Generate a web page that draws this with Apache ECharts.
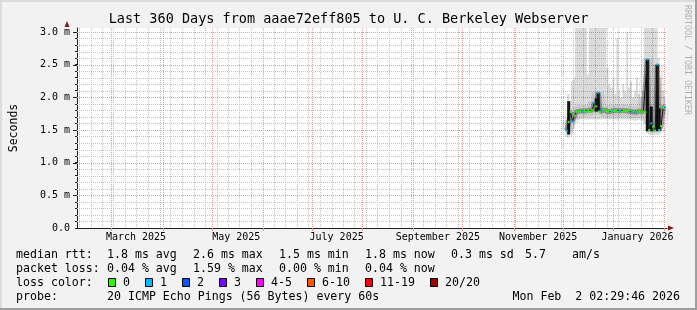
<!DOCTYPE html>
<html><head><meta charset="utf-8">
<script src="https://cdn.jsdelivr.net/npm/echarts@6.0.0/dist/echarts.min.js"></script>
<style>html,body{margin:0;padding:0;background:#f2f2f2}#c{width:697px;height:310px}</style>
</head><body><div id="c"></div>
<script>
// ---------- data ----------
const titleText = 'Last 360 Days from aaae72eff805 to U. C. Berkeley Webserver';
const axisStartUTC = Date.UTC(2025, 1, 7, 13, 0, 0);
const bucketDays = 0.6;
const bucketCount = 601;
const monthLabels = ['March 2025', 'May 2025', 'July 2025', 'September 2025', 'November 2025', 'January 2026'];
const monthLabelDates = [[2025, 2, 16], [2025, 4, 16], [2025, 6, 16], [2025, 8, 16], [2025, 10, 16], [2026, 0, 16]];
const yTickLabels = ['0.0', '0.5 m', '1.0 m', '1.5 m', '2.0 m', '2.5 m', '3.0 m'];
const yMax = 3.06;
const yMinorStep = 0.1;
const yMajorStep = 0.5;

const sampleStartUTC = Date.UTC(2025, 11, 3, 15, 0, 0);
const sampleStepDays = 1.2;
const medianRtt = [1.49,1.62,1.77,1.63,1.72,1.78,1.78,1.79,1.78,1.79,
  1.78,1.80,1.78,1.80,1.92,1.86,2.07,1.78,1.80,1.81,
  1.79,1.78,1.80,1.79,1.79,1.80,1.78,1.79,1.78,1.80,
  1.79,1.79,1.80,1.78,1.78,1.77,1.78,1.79,1.78,1.78,
  1.77,2.58,1.50,1.60,1.55,1.49,2.50,1.50,1.56,1.84,
  1.85];
const lossCount = [1,0,0,1,0,0,0,0,1,0,
  0,0,0,0,1,0,1,0,1,0,
  0,0,0,1,0,0,0,1,0,0,
  0,0,0,1,0,1,0,0,0,0,
  0,1,0,1,0,0,1,1,0,0,
  1];
const smokeLow = [1.40,1.38,1.45,1.42,1.52,1.66,1.66,1.66,1.66,1.66,
  1.66,1.66,1.66,1.66,1.66,1.66,1.66,1.66,1.66,1.67,
  1.66,1.66,1.66,1.66,1.66,1.66,1.65,1.66,1.66,1.66,
  1.66,1.66,1.66,1.65,1.65,1.64,1.65,1.66,1.65,1.64,
  1.60,1.45,1.43,1.42,1.43,1.42,1.43,1.42,1.45,1.70,
  1.72];
const smokeHigh = [1.65,2.05,1.95,2.25,2.30,3.06,3.06,3.06,3.06,3.06,
  3.06,2.35,3.06,3.06,3.06,3.06,3.06,3.06,3.06,3.06,
  3.06,2.45,2.20,2.15,2.30,2.05,2.90,2.10,2.00,2.20,
  2.10,3.00,2.15,2.25,2.00,2.10,2.30,2.05,2.00,2.10,
  3.06,3.06,3.06,3.06,3.06,3.06,3.06,2.60,2.30,2.10,
  2.00];
const spikeSample = [1, 15, 16, 41, 43, 46, 47];
const spikeLow = [1.43, 1.78, 1.80, 1.48, 1.48, 1.48, 1.49];
const spikeHigh = [1.94, 1.98, 2.07, 2.58, 1.86, 2.50, 1.83];

const lossLabels = ['0', '1', '2', '3', '4-5', '6-10', '11-19', '20/20'];
const lossColors = ['#26ff00', '#00b8ff', '#0059ff', '#7e00ff', '#ff00ff', '#ff5500', '#ff0000', '#a10000'];
const rttStats = ['1.8 ms avg', '2.6 ms max', '1.5 ms min', '1.8 ms now', '0.3 ms sd'];
const rttExtra = ['5.7', 'am/s'];
const lossStats = ['0.04 % avg', '1.59 % max', '0.00 % min', '0.04 % now'];
const probeText = '20 ICMP Echo Pings (56 Bytes) every 60s';
const stampText = 'Mon Feb  2 02:29:46 2026';
const watermark = 'RRDTOOL / TOBI OETIKER';

// ---------- helpers ----------
const DAY = 86400000;
const BUCKET = bucketDays * DAY;
const bucketOf = t => Math.floor((t - axisStartUTC) / BUCKET);
const categories = [];
for (let i = 0; i < bucketCount; i++) categories.push(new Date(axisStartUTC + i * BUCKET).toISOString());
const axisEnd = axisStartUTC + (bucketCount - 1) * BUCKET;

const monthSet = new Set();
for (let y = 2025, m = 0; y < 2027; m++) {
  if (m > 11) { m = 0; y++; }
  const t = Date.UTC(y, m, 1);
  if (t > axisEnd) break;
  if (t > axisStartUTC) monthSet.add(bucketOf(t));
}
const weekSet = new Set();
for (let t = Date.UTC(2025, 1, 7); t < axisEnd; t += DAY) {
  if (new Date(t).getUTCDay() === 0 && t > axisStartUTC) weekSet.add(bucketOf(t));
}
const labelMap = new Map();
monthLabelDates.forEach((d, i) => labelMap.set(bucketOf(Date.UTC(d[0], d[1], d[2])), monthLabels[i]));

const FONT = '"DejaVu Sans Mono", monospace';
const GRID = '#c2c2c2';
const MGRID = '#ee9a9a';
const AXIS = '#1f1f1f';
const ARROW = '#801f1f';

// grid line positions (axis ticks, not data)
const vWeek = Array.from(weekSet).filter(i => !monthSet.has(i)).sort((a, b) => a - b);
const vMonth = Array.from(monthSet).sort((a, b) => a - b);
const hMinor = [], hMajor = [];
for (let k = 1; k * yMinorStep <= 3.0 + 1e-9; k++) {
  const v = +(k * yMinorStep).toFixed(2);
  (k % 5 === 0 ? hMajor : hMinor).push(v);
}

const sampleBucket = medianRtt.map((_, k) => bucketOf(sampleStartUTC + k * sampleStepDays * DAY));
const smokeBase = sampleBucket.map((b, k) => [b, smokeLow[k]]);
const smokeBand = sampleBucket.map((b, k) => [b, +(smokeHigh[k] - smokeLow[k]).toFixed(3)]);
const spikeBase = spikeSample.map((k, j) => [sampleBucket[k], spikeLow[j]]);
const spikeBand = spikeSample.map((k, j) => [sampleBucket[k], +(spikeHigh[j] - spikeLow[j]).toFixed(3)]);
const medianPts = sampleBucket.map((b, k) => [b, medianRtt[k]]);
const medianItems = sampleBucket.map((b, k) => ({ value: [b, medianRtt[k]], itemStyle: { color: lossColors[lossCount[k]] } }));

// ---------- graphic (text, legend, frame) ----------
const txt = (x, y, text, extra) => ({
  type: 'text', x: x, y: y, silent: true,
  style: Object.assign({ text: text, fill: '#000', font: '11.6px ' + FONT, align: 'left', verticalAlign: 'middle', textAlign: 'left', textVerticalAlign: 'middle' }, extra || {})
});
const graphics = [];
graphics.push({ type: 'rect', shape: { x: 0, y: 0, width: 697, height: 2 }, style: { fill: '#dcdcdc' }, silent: true });
graphics.push({ type: 'rect', shape: { x: 0, y: 0, width: 2, height: 310 }, style: { fill: '#dcdcdc' }, silent: true });
graphics.push({ type: 'rect', shape: { x: 0, y: 308, width: 697, height: 2 }, style: { fill: '#9e9e9e' }, silent: true });
graphics.push({ type: 'rect', shape: { x: 695, y: 0, width: 2, height: 310 }, style: { fill: '#9e9e9e' }, silent: true });
graphics.push(txt(348.5, 19.5, titleText, { font: '13.5px ' + FONT, align: 'center', textAlign: 'center' }));
graphics.push(Object.assign(txt(687, 5, watermark, { font: '8.3px ' + FONT, fill: '#b0b0b0' }), { rotation: -Math.PI / 2 }));
graphics.push({ type: 'polygon', shape: { points: [[64.5, 27], [69.5, 27], [67, 21]] }, style: { fill: ARROW }, silent: true, z: 10 });
graphics.push({ type: 'polygon', shape: { points: [[668, 225.5], [668, 230.5], [674, 228]] }, style: { fill: ARROW }, silent: true, z: 10 });
const statX = [107, 193, 279, 365, 451];
graphics.push(txt(16, 254.5, 'median rtt:'));
rttStats.forEach((s, i) => graphics.push(txt(statX[i], 254.5, s)));
graphics.push(txt(525, 254.5, rttExtra[0]));
graphics.push(txt(572, 254.5, rttExtra[1]));
graphics.push(txt(16, 268.5, 'packet loss:'));
lossStats.forEach((s, i) => graphics.push(txt(statX[i], 268.5, s)));
graphics.push(txt(16, 282.5, 'loss color:'));
let bx = 108;
lossLabels.forEach((l, i) => {
  graphics.push({ type: 'rect', shape: { x: bx + 0.5, y: 278.5, width: 7, height: 8 }, style: { fill: lossColors[i], stroke: '#000', lineWidth: 1 }, silent: true });
  graphics.push(txt(bx + 15, 282.5, l));
  bx += 37 + 7 * (l.length - 1);
});
graphics.push(txt(16, 296.5, 'probe:'));
graphics.push(txt(107, 296.5, probeText));
graphics.push(txt(680, 296.5, stampText, { align: 'right', textAlign: 'right' }));

// ---------- chart ----------
const chart = echarts.init(document.getElementById('c'), null, { renderer: 'canvas' });
const yFmt = v => {
  const q = v / yMajorStep, r = Math.round(q);
  if (Math.abs(q - r) > 1e-6) return '';
  return yTickLabels[r] || '';
};
const vLine = (color, tick) => (params, api) => {
  const cs = params.coordSys;
  const x = Math.round(api.coord([api.value(0), 0])[0]) + 0.5;
  const children = [{ type: 'line', shape: { x1: x, y1: cs.y, x2: x, y2: cs.y + cs.height }, style: { stroke: color, lineWidth: 1, lineDash: [1, 1] } }];
  if (tick) children.push({ type: 'line', shape: { x1: x, y1: cs.y + cs.height, x2: x, y2: cs.y + cs.height + 3 }, style: { stroke: MGRID, lineWidth: 1 } });
  return { type: 'group', children: children };
};
const hLine = (color, tick) => (params, api) => {
  const cs = params.coordSys;
  const y = Math.round(api.coord([0, api.value(1)])[1]) + 0.5;
  const children = [{ type: 'line', shape: { x1: cs.x, y1: y, x2: cs.x + cs.width, y2: y }, style: { stroke: color, lineWidth: 1, lineDash: [1, 1] } }];
  if (tick) children.push({ type: 'line', shape: { x1: cs.x - 4, y1: y, x2: cs.x, y2: y }, style: { stroke: AXIS, lineWidth: 1 } });
  return { type: 'group', children: children };
};
chart.setOption({
  animation: false,
  backgroundColor: '#f2f2f2',
  grid: { left: 67, top: 28, width: 600, height: 200, show: true, backgroundColor: '#ffffff', borderWidth: 0 },
  xAxis: {
    type: 'category', data: categories, boundaryGap: false,
    axisLine: { show: true, lineStyle: { color: AXIS, width: 1 } },
    axisTick: { show: false },
    axisLabel: {
      show: true, interval: i => labelMap.has(i), formatter: (v, i) => labelMap.get(i) || '',
      fontFamily: FONT, fontSize: 10, color: '#000', margin: 4
    },
    splitLine: { show: false }
  },
  yAxis: {
    type: 'value', min: 0, max: yMax, interval: yMinorStep,
    name: 'Seconds', nameLocation: 'middle', nameGap: 57, nameRotate: 90,
    nameTextStyle: { fontFamily: FONT, fontSize: 11.5, color: '#000' },
    axisLine: { show: true, lineStyle: { color: AXIS, width: 1 } },
    axisTick: { show: true, length: 2, lineStyle: { color: AXIS } },
    axisLabel: { formatter: yFmt, showMaxLabel: false, fontFamily: FONT, fontSize: 10, color: '#000', margin: 7 },
    splitLine: { show: false }
  },
  series: [
    { name: 'weekGrid', type: 'custom', data: vWeek.map(i => [i, 0]), renderItem: vLine(GRID, false), silent: true, clip: false },
    { name: 'minorGrid', type: 'custom', data: hMinor.map(v => [0, v]), renderItem: hLine(GRID, false), silent: true, clip: false },
    { name: 'monthGrid', type: 'custom', data: vMonth.map(i => [i, 0]), renderItem: vLine(MGRID, true), silent: true, clip: false },
    { name: 'majorGrid', type: 'custom', data: hMajor.map(v => [0, v]), renderItem: hLine(MGRID, true), silent: true, clip: false },
    { name: 'smokeBase', type: 'bar', stack: 'smoke', data: smokeBase, barWidth: 2, barGap: '-100%', itemStyle: { color: 'rgba(0,0,0,0)' }, silent: true },
    { name: 'smoke', type: 'bar', stack: 'smoke', data: smokeBand, barWidth: 2, barGap: '-100%', itemStyle: { color: 'rgba(0,0,0,0.14)' }, silent: true },
    { name: 'haloWide', type: 'line', data: medianPts, showSymbol: false, lineStyle: { width: 12, color: 'rgba(0,0,0,0.07)' }, silent: true },
    { name: 'halo', type: 'line', data: medianPts, showSymbol: false, lineStyle: { width: 5, color: 'rgba(0,0,0,0.3)' }, silent: true },
    { name: 'spikeBase', type: 'bar', stack: 'spike', data: spikeBase, barWidth: 3, barGap: '-100%', itemStyle: { color: 'rgba(0,0,0,0)' }, silent: true },
    { name: 'spike', type: 'bar', stack: 'spike', data: spikeBand, barWidth: 3, barGap: '-100%', itemStyle: { color: '#151515' }, silent: true },
    {
      name: 'median', type: 'line', data: medianItems, symbol: 'rect', symbolSize: 2, showSymbol: true, showAllSymbol: true,
      lineStyle: { width: 1, color: '#1a1a1a' }, silent: true
    }
  ],
  graphic: graphics
});
</script>
</body></html>
